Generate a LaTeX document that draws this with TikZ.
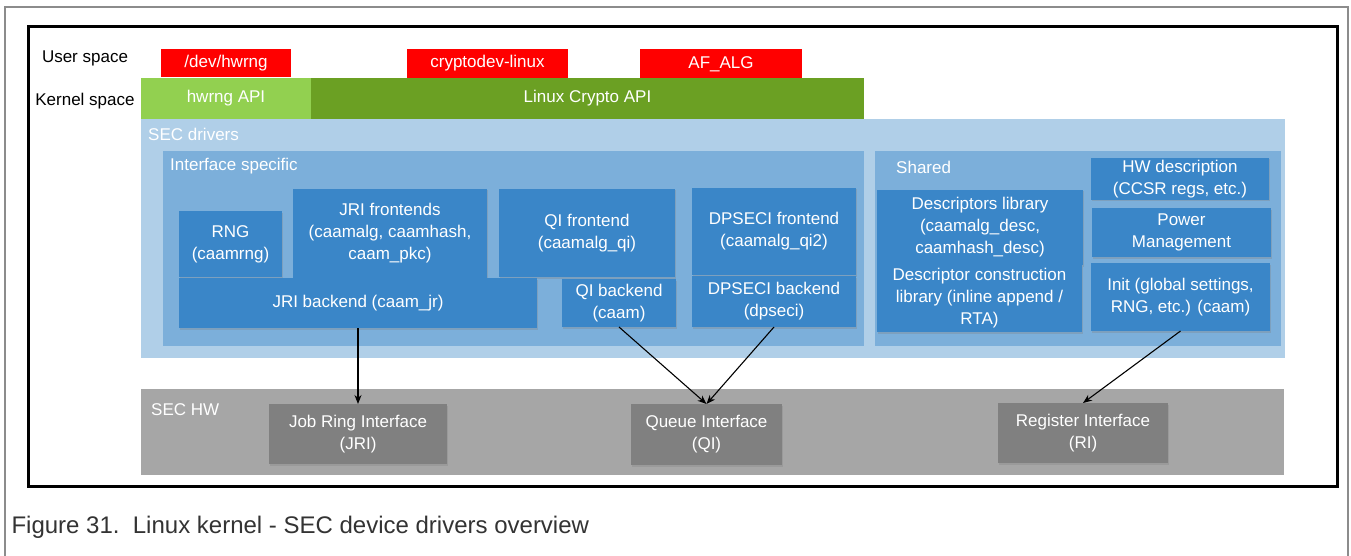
\documentclass[tikz,border=0pt]{standalone}
\usepackage{fontspec}
\setmainfont{Liberation Sans}
\usetikzlibrary{arrows.meta,shadows}

\definecolor{usrred}{HTML}{FF0000}
\definecolor{apilight}{HTML}{92D050}
\definecolor{apidark}{HTML}{6BA023}
\definecolor{drvband}{HTML}{B0CFE8}
\definecolor{drvpanel}{HTML}{7CAFDA}
\definecolor{drvbox}{HTML}{3A86C8}
\definecolor{hwband}{HTML}{A6A6A6}
\definecolor{hwbox}{HTML}{808080}

\begin{document}
\begin{tikzpicture}[x=1pt, y=-1pt, font=\fontsize{17}{22}\selectfont]
\tikzset{
  area/.style={anchor=north west, inner sep=0pt, outer sep=0pt},
  usrbox/.style={area, fill=usrred, text=white},
  apibox/.style={area, text=white},
  box/.style={area, fill=drvbox, text=white, align=center,
    drop shadow={shadow xshift=1pt, shadow yshift=-1.5pt, opacity=0.3}},
  hwb/.style={area, fill=hwbox, text=white, align=center,
    drop shadow={shadow xshift=1pt, shadow yshift=-1.5pt, opacity=0.3}},
  lbl/.style={anchor=west, text=white, inner sep=0pt},
  link/.style={draw=black, line width=1.1pt, -{Stealth[length=9pt, width=7pt]}}
}
\fill[white] (0,0) rectangle (1351,556);
\useasboundingbox (0,0) rectangle (1351,556);
% page frame and figure frame
\draw[black!45, line width=1.5pt] (5,556) -- (5,7) -- (1348,7) -- (1348,556);
\draw[line width=3pt] (28,27) rectangle (1337,486);

\node (usr) at (85,58) {User space};
\node (krn) at (85,101) {Kernel space};

\node[usrbox, minimum width=130pt, minimum height=28pt] (devrng) at (161,49) {/dev/hwrng};
\node[usrbox, minimum width=161pt, minimum height=29pt] (cdev) at (407,49) {cryptodev-linux};
\node[usrbox, minimum width=162pt, minimum height=30pt] (afalg) at (640,49) {AF\_ALG};

\node[apibox, fill=apilight, minimum width=170pt, minimum height=41pt] (rngapi) at (141,78) {hwrng API};
\node[apibox, fill=apidark, minimum width=553pt, minimum height=41pt] (cryapi) at (311,78) {Linux Crypto API};

% SEC drivers
\node[area, fill=drvband, minimum width=1144pt, minimum height=239pt] (secdrv) at (141,119) {};
\node[lbl] (secdrvlbl) at (148,134) {SEC drivers};
\node[area, fill=drvpanel, minimum width=701pt, minimum height=195pt] (ifspec) at (163,151) {};
\node[lbl] (ifspeclbl) at (170,166) {Interface specific};
\node[area, fill=drvpanel, minimum width=406pt, minimum height=195pt] (shared) at (875,151) {};
\node[lbl] (sharedlbl) at (896,167) {Shared};

\node[box, minimum width=103pt, minimum height=66pt] (rng) at (179,211) {RNG\\(caamrng)};
\node[box, minimum width=194pt, minimum height=89pt] (jrf) at (293,189) {JRI frontends\\(caamalg, caamhash,\\caam\_pkc)};
\node[box, minimum width=176pt, minimum height=88pt] (qif) at (499,189) {QI frontend\\(caamalg\_qi)};
\node[box, minimum width=164pt, minimum height=87pt] (dpf) at (692,188) {DPSECI frontend\\(caamalg\_qi2)};
\node[box, minimum width=358pt, minimum height=50pt] (jrb) at (179,278) {JRI backend (caam\_jr)};
\node[box, minimum width=114pt, minimum height=48pt] (qib) at (562,279) {QI backend\\(caam)};
\node[box, minimum width=164pt, minimum height=51pt] (dpb) at (692,276) {DPSECI backend\\(dpseci)};

\node[box, minimum width=206pt, minimum height=75pt] (dlib) at (877,190) {Descriptors library\\(caamalg\_desc,\\caamhash\_desc)};
\node[box, minimum width=205pt, minimum height=67pt] (dcon) at (877,265) {Descriptor construction\\library (inline append /\\RTA)};
\node[box, minimum width=178pt, minimum height=42pt] (hwd) at (1091,158) {HW description\\(CCSR regs, etc.)};
\node[box, minimum width=179pt, minimum height=49pt] (pwr) at (1092,208) {Power\\Management};
\node[box, minimum width=179pt, minimum height=68pt] (init) at (1091,263) {Init (global settings,\\RNG, etc.) (caam)};

% SEC HW
\node[area, fill=hwband, minimum width=1143pt, minimum height=86pt] (sechw) at (141,389) {};
\node[lbl] (sechwlbl) at (151,410) {SEC HW};
\node[hwb, minimum width=178pt, minimum height=60pt] (jri) at (269,404) {Job Ring Interface\\(JRI)};
\node[hwb, minimum width=151pt, minimum height=61pt] (qi) at (631,404) {Queue Interface\\(QI)};
\node[hwb, minimum width=170pt, minimum height=60pt] (ri) at (998,403) {Register Interface\\(RI)};

\draw[link] (jrb.south) -- (jri.north);
\draw[link] (qib.south) -- (qi.north);
\draw[link] (dpb.south) -- (qi.north);
\draw[link] (init.south) -- (ri.north);

\node[anchor=west, font=\fontsize{24}{28}\selectfont, text=black!80] (cap) at (8,527) {Figure 31.\ \ Linux kernel - SEC device drivers overview};
\end{tikzpicture}
\end{document}
